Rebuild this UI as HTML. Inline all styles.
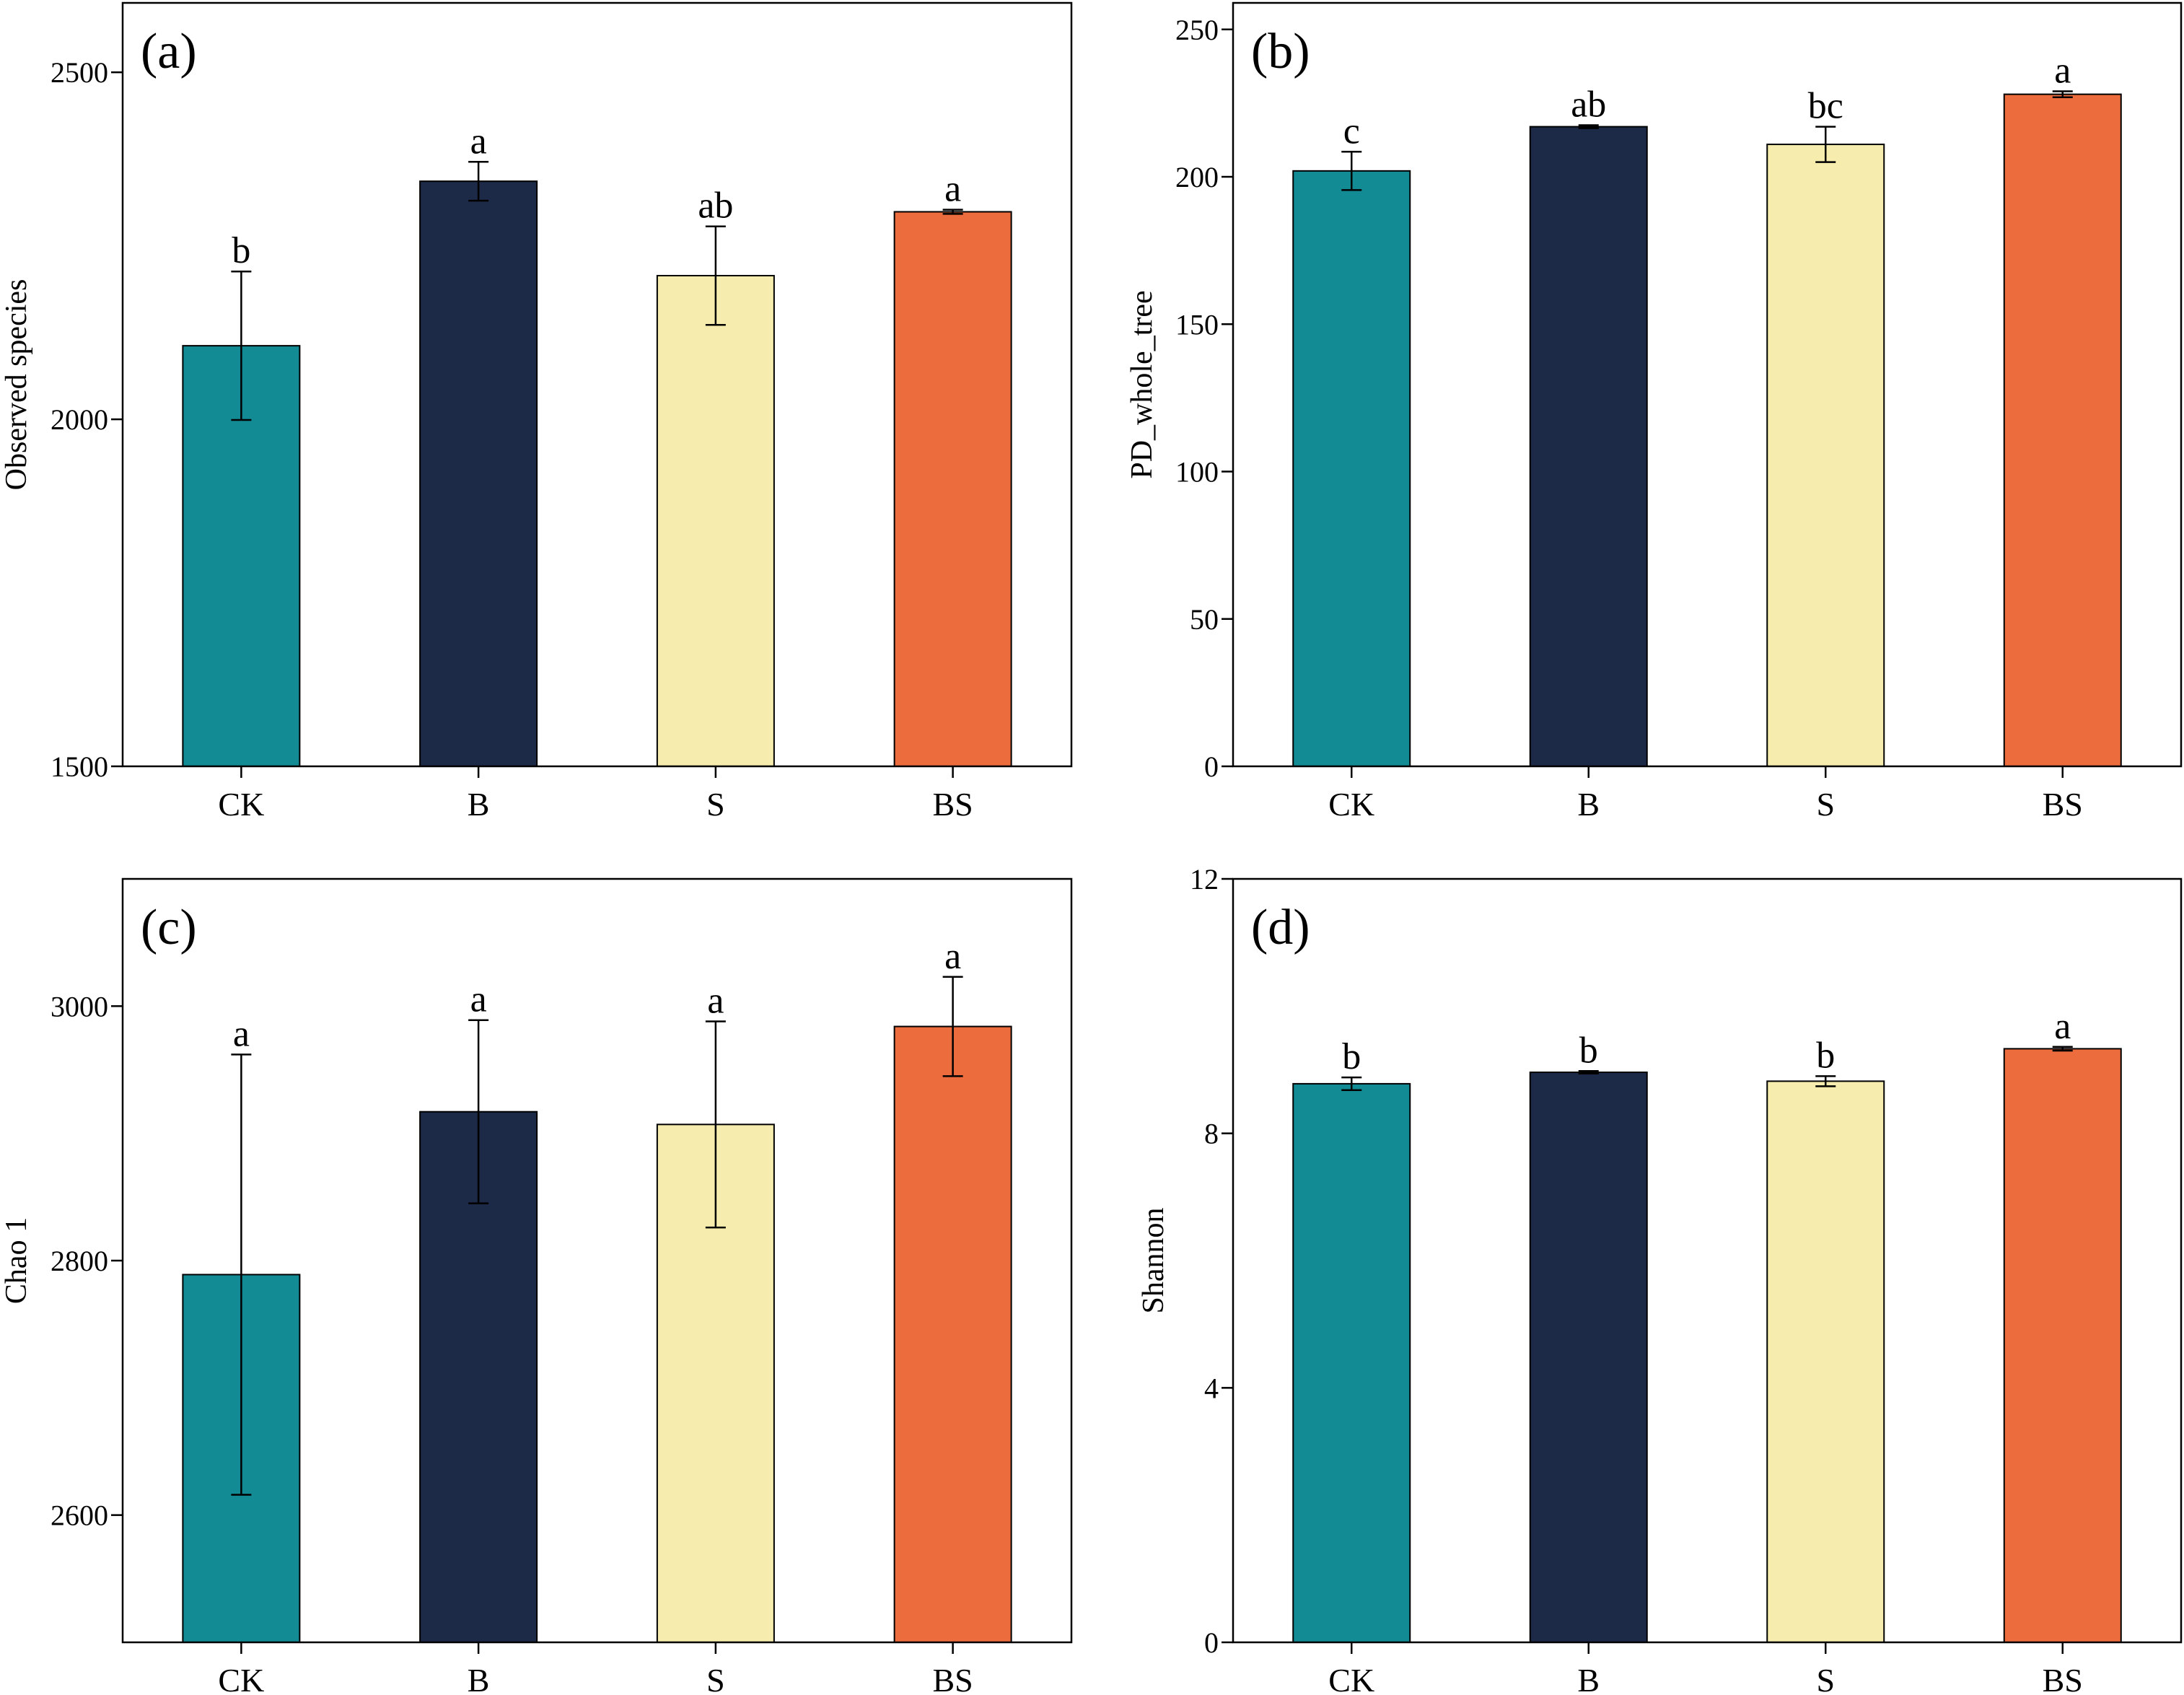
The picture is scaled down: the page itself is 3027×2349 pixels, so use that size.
<!DOCTYPE html>
<html><head><meta charset="utf-8"><style>
html,body{margin:0;padding:0;background:#fff;}
svg{display:block;font-family:"Liberation Serif",serif;}
</style></head><body>
<svg id="fig" width="3027" height="2349" viewBox="0 0 3027 2349" xmlns="http://www.w3.org/2000/svg"></svg>
<script>
const categories = ["CK","B","S","BS"];
const colors = ["#128b95","#1c2947","#f5ecad","#ec6c3e"];
const obsValues = [2106,2343,2207,2299];
const obsErrors = [107,28,71,3];
const obsLetters = ["b","a","ab","a"];
const obsTicks = [1500,2000,2500];
const pdValues = [202,217,211,228];
const pdErrors = [6.5,0.5,6,1];
const pdLetters = ["c","ab","bc","a"];
const pdTicks = [0,50,100,150,200,250];
const chaoValues = [2789,2917,2907,2984];
const chaoErrors = [173,72,81,39];
const chaoLetters = ["a","a","a","a"];
const chaoTicks = [2600,2800,3000];
const shanValues = [8.78,8.96,8.82,9.33];
const shanErrors = [0.1,0.02,0.08,0.03];
const shanLetters = ["b","b","b","a"];
const shanTicks = [0,4,8,12];

const svg = document.getElementById('fig');
const NS = "http://www.w3.org/2000/svg";
function mk(tag, attrs, parent){
  const e = document.createElementNS(NS, tag);
  for (const k in attrs) e.setAttribute(k, attrs[k]);
  (parent||svg).appendChild(e);
  return e;
}
function panel(p){
  const g = mk('g', {});
  
  
  const y = v => p.bottom - (v - p.min) / (p.max - p.min) * (p.bottom - p.top);
  const bw = (p.right - p.left) / 4;
  const x = i => p.left + bw * (i + 0.5);
  categories.forEach((c, i) => {
    const top = y(p.values[i]);
    const r = mk('rect', {x: x(i) - 81, y: top, width: 162, height: p.bottom - top, fill: colors[i], stroke: '#000', 'stroke-width': 2}, g);
    
    
    const et = y(p.values[i] + p.errors[i]), eb = y(p.values[i] - p.errors[i]);
    const eg = mk('g', {stroke: '#000', 'stroke-width': 2.5}, g);
    
    
    mk('line', {x1: x(i), x2: x(i), y1: et, y2: eb}, eg);
    mk('line', {x1: x(i) - 14, x2: x(i) + 14, y1: et, y2: et}, eg);
    mk('line', {x1: x(i) - 14, x2: x(i) + 14, y1: eb, y2: eb}, eg);
    const t = mk('text', {x: x(i), y: et - 12, 'font-size': 52, 'text-anchor': 'middle'}, g);
    t.textContent = p.letters[i];
    
    
    mk('line', {x1: x(i), x2: x(i), y1: p.bottom, y2: p.bottom + 16, stroke: '#000', 'stroke-width': 2.5}, g);
    const cl = mk('text', {x: x(i), y: p.bottom + 68, 'font-size': 46, 'text-anchor': 'middle'}, g);
    cl.textContent = c;
    
    
  });
  const fr = mk('rect', {x: p.left, y: p.top, width: p.right - p.left, height: p.bottom - p.top, fill: 'none', stroke: '#000', 'stroke-width': 2.5}, g);
  
  
  p.ticks.forEach(v => {
    mk('line', {x1: p.left - 16, x2: p.left, y1: y(v), y2: y(v), stroke: '#000', 'stroke-width': 2.5}, g);
    const t = mk('text', {x: p.left - 20, y: y(v) + 14, 'font-size': 40, 'text-anchor': 'end'}, g);
    t.textContent = v;
    
    
  });
  const yt = mk('text', {x: 0, y: 0, 'font-size': 42, 'text-anchor': 'middle', transform: 'translate(' + p.titleX + ',' + ((p.top + p.bottom) / 2) + ') rotate(-90)'}, g);
  yt.textContent = p.title;
  
  
  const pl = mk('text', {x: p.left + 25, y: p.top + 90, 'font-size': 70}, g);
  pl.textContent = '(' + p.id + ')';
  
  
}
panel({id:'a', left:170, right:1485, top:4, bottom:1062, min:1500, max:2600, values:obsValues, errors:obsErrors, letters:obsLetters, ticks:obsTicks, title:'Observed species', titleX:36});
panel({id:'b', left:1709, right:3023, top:4, bottom:1062, min:0, max:259, values:pdValues, errors:pdErrors, letters:pdLetters, ticks:pdTicks, title:'PD_whole_tree', titleX:1596});
panel({id:'c', left:170, right:1485, top:1218, bottom:2276, min:2500, max:3100, values:chaoValues, errors:chaoErrors, letters:chaoLetters, ticks:chaoTicks, title:'Chao 1', titleX:36});
panel({id:'d', left:1709, right:3023, top:1218, bottom:2276, min:0, max:12, values:shanValues, errors:shanErrors, letters:shanLetters, ticks:shanTicks, title:'Shannon', titleX:1612});
</script>
</body></html>
